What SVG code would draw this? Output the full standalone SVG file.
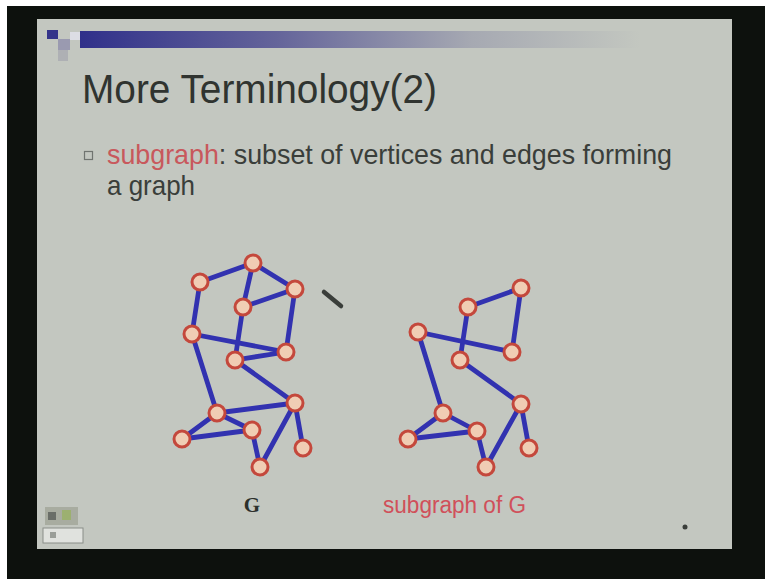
<svg xmlns="http://www.w3.org/2000/svg" width="765" height="579" viewBox="0 0 765 579">
<defs>
<linearGradient id="bar" x1="0" y1="0" x2="1" y2="0">
<stop offset="0" stop-color="#30308a"/>
<stop offset="0.35" stop-color="#64649a"/>
<stop offset="0.7" stop-color="#a6a9b2"/>
<stop offset="1" stop-color="#c3c7c0"/>
</linearGradient>
<style>
.e{stroke:#3232b0;stroke-width:4.8;stroke-linecap:round;fill:none}
.n{fill:#f0cdb4;stroke:#c4483c;stroke-width:3}
.t{font-family:"Liberation Sans",Arial,sans-serif}
</style>
</defs>
<rect x="0" y="0" width="765" height="579" fill="#0d110d"/>
<rect x="0" y="0" width="765" height="6" fill="#ffffff"/>
<rect x="0" y="0" width="7" height="579" fill="#ffffff"/>
<rect x="37" y="19" width="695" height="530" fill="#c3c7c0"/>
<g id="header">
<rect x="80" y="31" width="560" height="17" fill="url(#bar)"/>
<rect x="47" y="30" width="11" height="9" fill="#34348a"/>
<rect x="58" y="39" width="12" height="11" fill="#9a9ab0"/>
<rect x="58" y="50" width="10" height="11" fill="#aeb0b4"/>
<rect x="70" y="32" width="10" height="8" fill="#dcdde4"/>
</g>
<text class="t" x="82" y="103" font-size="40" fill="#303430" textLength="355" lengthAdjust="spacingAndGlyphs">More Terminology(2)</text>
<rect x="84.5" y="151.5" width="8" height="8" fill="none" stroke="#707470" stroke-width="1.2"/>
<text class="t" x="107" y="164" font-size="28" fill="#3a3e3a" textLength="565" lengthAdjust="spacingAndGlyphs"><tspan fill="#c8585c">subgraph</tspan>: subset of vertices and edges forming</text>
<text class="t" x="107" y="195" font-size="28" fill="#3a3e3a" textLength="88" lengthAdjust="spacingAndGlyphs">a graph</text>
<g id="connectors">
<line class="e" x1="200" y1="282" x2="253" y2="263"/>
<line class="e" x1="253" y1="263" x2="295" y2="289"/>
<line class="e" x1="253" y1="263" x2="243" y2="307"/>
<line class="e" x1="243" y1="307" x2="295" y2="289"/>
<line class="e" x1="200" y1="282" x2="192" y2="334"/>
<line class="e" x1="295" y1="289" x2="286" y2="352"/>
<line class="e" x1="243" y1="307" x2="235" y2="360"/>
<line class="e" x1="192" y1="334" x2="286" y2="352"/>
<line class="e" x1="235" y1="360" x2="286" y2="352"/>
<line class="e" x1="235" y1="360" x2="295" y2="403"/>
<line class="e" x1="192" y1="334" x2="217" y2="413"/>
<line class="e" x1="217" y1="413" x2="295" y2="403"/>
<line class="e" x1="217" y1="413" x2="182" y2="439"/>
<line class="e" x1="217" y1="413" x2="252" y2="430"/>
<line class="e" x1="182" y1="439" x2="252" y2="430"/>
<line class="e" x1="252" y1="430" x2="260" y2="467"/>
<line class="e" x1="295" y1="403" x2="260" y2="467"/>
<line class="e" x1="295" y1="403" x2="303" y2="448"/>
<line class="e" x1="468" y1="307" x2="521" y2="288"/>
<line class="e" x1="521" y1="288" x2="512" y2="352"/>
<line class="e" x1="468" y1="307" x2="460" y2="360"/>
<line class="e" x1="418" y1="332" x2="512" y2="352"/>
<line class="e" x1="418" y1="332" x2="443" y2="413"/>
<line class="e" x1="460" y1="360" x2="521" y2="404"/>
<line class="e" x1="443" y1="413" x2="477" y2="431"/>
<line class="e" x1="443" y1="413" x2="408" y2="439"/>
<line class="e" x1="408" y1="439" x2="477" y2="431"/>
<line class="e" x1="477" y1="431" x2="486" y2="467"/>
<line class="e" x1="521" y1="404" x2="486" y2="467"/>
<line class="e" x1="521" y1="404" x2="529" y2="448"/>
</g>
<g id="gA"><circle class="n" cx="253" cy="263" r="8"/></g>
<g id="gB"><circle class="n" cx="200" cy="282" r="8"/></g>
<g id="gC"><circle class="n" cx="295" cy="289" r="8"/></g>
<g id="gD"><circle class="n" cx="243" cy="307" r="8"/></g>
<g id="gE"><circle class="n" cx="192" cy="334" r="8"/></g>
<g id="gF"><circle class="n" cx="286" cy="352" r="8"/></g>
<g id="gH"><circle class="n" cx="235" cy="360" r="8"/></g>
<g id="gI"><circle class="n" cx="295" cy="403" r="8"/></g>
<g id="gJ"><circle class="n" cx="217" cy="413" r="8"/></g>
<g id="gK"><circle class="n" cx="252" cy="430" r="8"/></g>
<g id="gL"><circle class="n" cx="182" cy="439" r="8"/></g>
<g id="gM"><circle class="n" cx="303" cy="448" r="8"/></g>
<g id="gN"><circle class="n" cx="260" cy="467" r="8"/></g>
<g id="sC"><circle class="n" cx="521" cy="288" r="8"/></g>
<g id="sD"><circle class="n" cx="468" cy="307" r="8"/></g>
<g id="sE"><circle class="n" cx="418" cy="332" r="8"/></g>
<g id="sF"><circle class="n" cx="512" cy="352" r="8"/></g>
<g id="sH"><circle class="n" cx="460" cy="360" r="8"/></g>
<g id="sI"><circle class="n" cx="521" cy="404" r="8"/></g>
<g id="sJ"><circle class="n" cx="443" cy="413" r="8"/></g>
<g id="sK"><circle class="n" cx="477" cy="431" r="8"/></g>
<g id="sL"><circle class="n" cx="408" cy="439" r="8"/></g>
<g id="sM"><circle class="n" cx="529" cy="448" r="8"/></g>
<g id="sN"><circle class="n" cx="486" cy="467" r="8"/></g>
<text x="252" y="512" font-family="Liberation Serif,serif" font-weight="bold" font-size="21" fill="#2c302c" text-anchor="middle">G</text>
<text class="t" x="383" y="513" font-size="23" fill="#d0505a" textLength="143" lengthAdjust="spacingAndGlyphs">subgraph of G</text>
<line x1="324" y1="292" x2="341" y2="306" stroke="#3a3e3a" stroke-width="4.5" stroke-linecap="round"/>
<circle cx="685" cy="527" r="2.5" fill="#3a3e3a"/>
<g id="icons">
<rect x="45" y="507" width="33" height="18" fill="#a8aca0"/>
<rect x="48" y="512" width="8" height="8" fill="#6a6e68"/>
<rect x="62" y="510" width="9" height="10" fill="#9cb070"/>
<rect x="43" y="528" width="40" height="15" fill="#e0e2de" stroke="#8a8e88" stroke-width="1"/>
<rect x="50" y="532" width="6" height="6" fill="#9a9e98"/>
</g>
</svg>
